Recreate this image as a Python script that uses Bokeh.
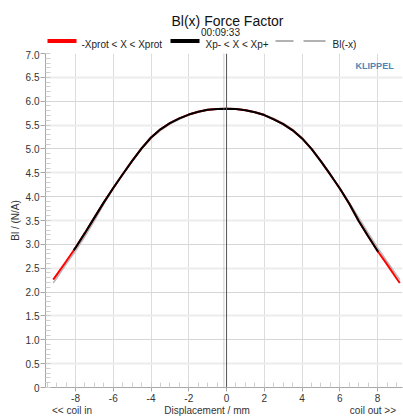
from bokeh.plotting import figure
from bokeh.layouts import column
from bokeh.models import (Span, Label, SingleIntervalTicker, FixedTicker, Grid, Range1d,
                          PrintfTickFormatter)
from bokeh.core.properties import value
from bokeh.embed import file_html
from bokeh.resources import INLINE

# ---- data ----
x_prot = [-9.18, -9.0, -8.5, -8.0, -7.5, -7.0, -6.5, -6.0, -5.5, -5.0, -4.5, -4.0, -3.5, -3.0,
          -2.5, -2.0, -1.5, -1.0, -0.5, 0.0, 0.5, 1.0, 1.5, 2.0, 2.5, 3.0, 3.5, 4.0, 4.5, 5.0,
          5.5, 6.0, 6.5, 7.0, 7.5, 8.0, 8.5, 9.0, 9.18]
bl_prot = [2.26, 2.36, 2.64, 2.93, 3.24, 3.56, 3.88, 4.18, 4.47, 4.75, 5.01, 5.24, 5.41, 5.54,
           5.64, 5.72, 5.78, 5.82, 5.835, 5.84, 5.835, 5.81, 5.77, 5.71, 5.62, 5.52, 5.39, 5.22,
           5.00, 4.74, 4.46, 4.17, 3.85, 3.49, 3.17, 2.86, 2.58, 2.29, 2.19]
x_p = [-8.09, -8.0, -7.5, -7.0, -6.5, -6.0, -5.5, -5.0, -4.5, -4.0, -3.5, -3.0, -2.5, -2.0,
       -1.5, -1.0, -0.5, 0.0, 0.5, 1.0, 1.5, 2.0, 2.5, 3.0, 3.5, 4.0, 4.5, 5.0, 5.5, 6.0,
       6.5, 7.0, 7.5, 8.0, 8.03]
bl_p = [2.88, 2.93, 3.24, 3.56, 3.88, 4.18, 4.47, 4.75, 5.01, 5.24, 5.41, 5.54, 5.64, 5.72,
        5.78, 5.82, 5.835, 5.84, 5.835, 5.81, 5.77, 5.71, 5.62, 5.52, 5.39, 5.22, 5.00, 4.74,
        4.46, 4.17, 3.85, 3.49, 3.17, 2.86, 2.84]
x_rest = -0.14
x_ticks = [-8, -6, -4, -2, 0, 2, 4, 6, 8]
x_tick_labels = ["-8", "-6", "-4", "-2", "0", "2", "4", "6", "8"]
series_names = ["-Xprot < X < Xprot", "Xp- < X < Xp+", "Bl(-x)"]
series_colors = ["#ff0000", "#000000", "#999999"]
title_text = "Bl(x) Force Factor"
subtitle_text = "00:09:33"

FONT = "Liberation Sans"
NB = "\u00a0"

# ---------------- header: title, time stamp, legend ----------------
# (the column aligns this header's frame with the plot frame: 45..402 px)
hdr = figure(width=403, height=50, output_backend="svg", toolbar_location=None,
             x_range=Range1d(45, 402), y_range=Range1d(50, 0),
             x_axis_location=None, y_axis_location=None,
             min_border=0, outline_line_color=None)
hdr.grid.visible = False
hdr.text(x=[227], y=[20], text=[title_text], text_align="center", text_baseline="alphabetic",
         text_font=value(FONT), text_font_size="14px", text_color="#111111")
hdr.text(x=[220], y=[32], text=[subtitle_text], text_align="center", text_baseline="alphabetic",
         text_font=value(FONT), text_font_size="10px", text_color="#222222")
# legend samples
hdr.segment(x0=[47], y0=[40.5], x1=[76], y1=[40.5], line_color=series_colors[0], line_width=4)
hdr.segment(x0=[170], y0=[40.5], x1=[199], y1=[40.5], line_color=series_colors[1], line_width=4)
hdr.segment(x0=[275, 303], y0=[40.5, 40.5], x1=[293, 325], y1=[40.5, 40.5],
            line_color=series_colors[2], line_width=1.5)
hdr.text(x=[81, 205, 332], y=[43.5, 43.5, 43.5], text=series_names, text_align="left",
         text_baseline="alphabetic", text_font=value(FONT), text_font_size="10px",
         text_color="#222222")

# ---------------- main plot ----------------
p = figure(width=403, height=368, output_backend="svg", toolbar_location=None, title=None,
           x_range=Range1d(-9.59, 9.32), y_range=Range1d(0, 7.0),
           min_border_left=45, min_border_right=1, min_border_top=3, min_border_bottom=29)
p.outline_line_color = None
p.background_fill_color = "white"
p.border_fill_color = "white"

p.xaxis.ticker = SingleIntervalTicker(interval=2, num_minor_ticks=4)
p.yaxis.ticker = SingleIntervalTicker(interval=0.5, num_minor_ticks=5)
p.yaxis.formatter = PrintfTickFormatter(format="%.1f")
p.xaxis.major_label_overrides = {t: l for t, l in zip(x_ticks, x_tick_labels)}
p.yaxis.major_label_overrides = {0: "0"}
for ax in (p.xaxis, p.yaxis):
    ax.axis_line_color = "#a8a8a8"
    ax.major_tick_line_color = "#a8a8a8"
    ax.minor_tick_line_color = "#cfcfcf"
    ax.major_tick_in = 0
    ax.minor_tick_out = 0
    ax.minor_tick_in = 5
    ax.major_label_text_font = FONT
    ax.major_label_text_font_size = "10px"
    ax.major_label_text_color = "#333333"
    ax.axis_label_text_font = FONT
    ax.axis_label_text_font_size = "10px"
    ax.axis_label_text_font_style = "normal"
    ax.axis_label_text_color = "#333333"
p.yaxis.major_tick_out = 5
p.yaxis.major_label_standoff = 1
p.yaxis.axis_label = "Bl / (N/A)"
p.yaxis.axis_label_standoff = 2
p.xaxis.major_tick_out = 4
p.xaxis.major_label_standoff = 2
p.xaxis.axis_label = "<< coil in" + NB * 26 + "Displacement / mm" + NB * 36 + "coil out >>"
p.xaxis.axis_label_standoff = 0

p.xgrid.grid_line_color = "#dcdcdc"
p.ygrid.ticker = SingleIntervalTicker(interval=1.0)
p.ygrid.grid_line_color = "#d6d6d6"
half_grid = Grid(dimension=1, ticker=FixedTicker(ticks=[0.5, 1.5, 2.5, 3.5, 4.5, 5.5, 6.5]),
                 grid_line_color="#ececec", grid_line_width=2)
p.add_layout(half_grid)

p.add_layout(Span(location=x_rest, dimension="height", line_color="#a0a0a0",
                  line_width=1, line_dash="1 1"))
p.add_layout(Span(location=0, dimension="height", line_color="#555555", line_width=1))

p.line([-v for v in x_prot], bl_prot, line_color="#b8b8b8", line_width=1.5)
p.line(x_prot, bl_prot, line_color=series_colors[0], line_width=2)
p.line(x_p, bl_p, line_color=series_colors[1], line_width=2)

p.add_layout(Label(x=8.85, y=6.73, text="KLIPPEL", text_align="right", text_baseline="middle",
                   text_font=FONT, text_font_size="9px", text_font_style="bold",
                   text_color="#4a86b8"))

layout = column(hdr, p, spacing=0)
open("out.html", "w").write(file_html(layout, INLINE))
